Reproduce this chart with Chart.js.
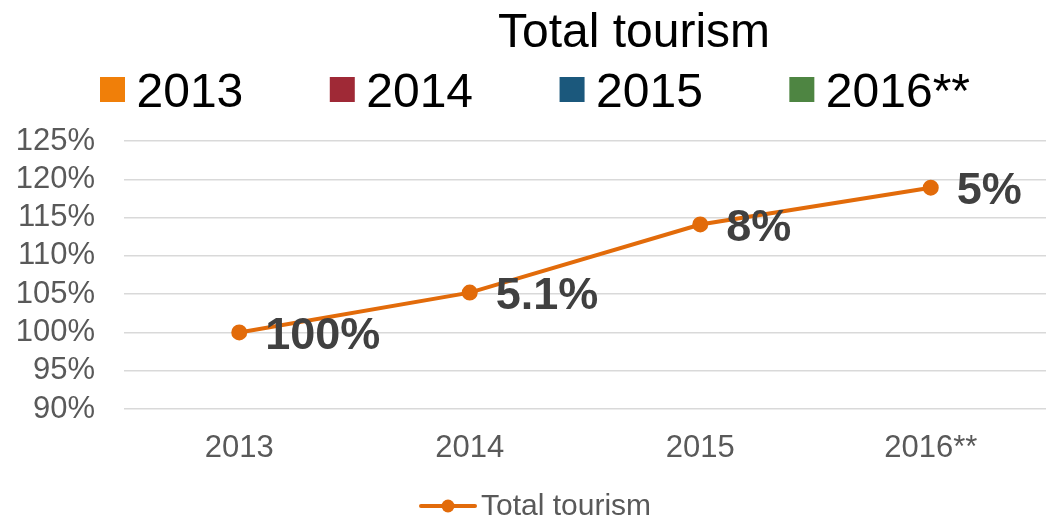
<!DOCTYPE html>
<html>
<head>
<meta charset="utf-8">
<script src="https://cdn.jsdelivr.net/npm/chart.js@4.4.0/dist/chart.umd.min.js"></script>
<style>
  body { margin: 0; background: #fff; }
</style>
</head>
<body>
<canvas id="tourismChart" width="1056" height="518"></canvas>
<script>
// chart data
const years = ['2013', '2014', '2015', '2016**'];
const totalTourism = [100, 105.2, 114.1, 118.9];
const growthLabels = ['100%', '5.1%', '8%', '5%'];
const yearColors = ['#F07F09', '#9F2936', '#1B587C', '#4E8542'];
const yTicks = [90, 95, 100, 105, 110, 115, 120, 125];

const FONT = '"Liberation Sans", Arial, sans-serif';
const LINE_COLOR = '#E26B0A';

// draws the title, the year legend on top, the series legend at the bottom and the value labels
const decorations = {
    id: 'decorations',
    afterDatasetsDraw(chart) {
        const ctx = chart.ctx;
        const meta = chart.getDatasetMeta(0);
        ctx.save();
        ctx.fillStyle = '#404040';
        ctx.font = 'bold 45px ' + FONT;
        ctx.textAlign = 'left';
        ctx.textBaseline = 'middle';
        meta.data.forEach((pt, i) => {
            ctx.fillText(growthLabels[i], pt.x + 26, pt.y + 4);
        });
        ctx.restore();
    },
    afterDraw(chart) {
        const ctx = chart.ctx;
        ctx.save();

        // title
        ctx.fillStyle = '#000';
        ctx.font = '48px ' + FONT;
        ctx.textAlign = 'center';
        ctx.textBaseline = 'alphabetic';
        ctx.fillText('Total tourism', 634, 47);

        // year legend
        ctx.textAlign = 'left';
        let x = 100;
        years.forEach((year, i) => {
            ctx.fillStyle = yearColors[i];
            ctx.fillRect(x, 77, 25, 25);
            ctx.fillStyle = '#000';
            ctx.fillText(year, x + 36.5, 107);
            x += 36.5 + ctx.measureText(year).width + 86.5;
        });

        // series legend
        const ds = chart.data.datasets[0];
        ctx.strokeStyle = ds.borderColor;
        ctx.lineWidth = 4;
        ctx.lineCap = 'round';
        ctx.beginPath();
        ctx.moveTo(421, 506);
        ctx.lineTo(475, 506);
        ctx.stroke();
        ctx.fillStyle = ds.pointBackgroundColor;
        ctx.beginPath();
        ctx.arc(448, 506, 6.5, 0, Math.PI * 2);
        ctx.fill();
        ctx.fillStyle = '#595959';
        ctx.font = '30px ' + FONT;
        ctx.fillText(ds.label, 481, 515);

        ctx.restore();
    }
};

const ctx = document.getElementById('tourismChart').getContext('2d');

const tourismChart = new Chart(ctx, {
    type: 'line',
    data: {
        labels: years,
        datasets: [
            {
                label: 'Total tourism',
                data: totalTourism,
                borderColor: LINE_COLOR,
                backgroundColor: LINE_COLOR,
                pointBackgroundColor: LINE_COLOR,
                pointBorderColor: LINE_COLOR,
                borderWidth: 4,
                pointRadius: 6,
                pointHoverRadius: 6,
                tension: 0
            }
        ]
    },
    options: {
        responsive: false,
        animation: false,
        layout: {
            padding: { top: 141, left: 16, right: 0, bottom: 53 }
        },
        plugins: {
            legend: { display: false },
            title: { display: false },
            tooltip: { enabled: false }
        },
        scales: {
            x: {
                offset: true,
                grid: { display: false, drawTicks: false },
                border: { display: false },
                ticks: {
                    color: '#595959',
                    font: { family: FONT, size: 31 },
                    padding: 21,
                    maxRotation: 0
                },
                afterFit: scale => {
                    scale.height = 56;
                    scale.paddingLeft = 0;
                    scale.paddingRight = 0;
                }
            },
            y: {
                min: yTicks[0],
                max: yTicks[yTicks.length - 1],
                grid: { color: '#d9d9d9', lineWidth: 1.5, drawTicks: false },
                border: { display: false },
                ticks: {
                    stepSize: 5,
                    autoSkip: false,
                    color: '#595959',
                    font: { family: FONT, size: 31 },
                    padding: 29,
                    callback: v => v + '%'
                },
                afterFit: scale => { scale.width = 108; }
            }
        }
    },
    plugins: [decorations]
});
</script>
</body>
</html>
